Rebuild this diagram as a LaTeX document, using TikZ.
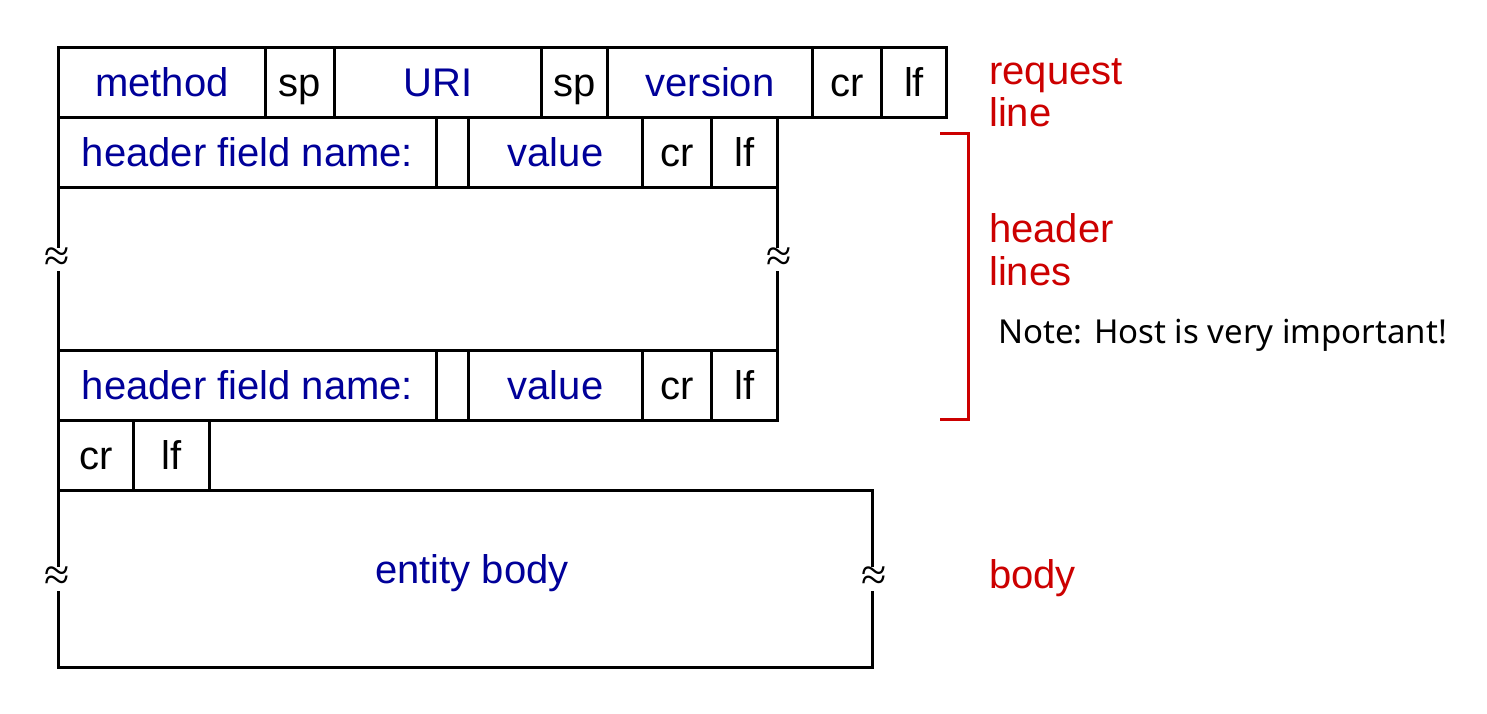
\documentclass[tikz,border=0pt]{standalone}
\usepackage{fontspec}
\setmainfont{Liberation Sans}
\newfontfamily\notefont{Noto Sans}
\newfontfamily\squigfont{Liberation Serif}
\definecolor{hblue}{RGB}{0,0,153}
\definecolor{hred}{RGB}{204,0,0}
\begin{document}
\begin{tikzpicture}[x=1pt,y=-1pt,
  cell/.style={draw=black, line width=3pt, inner sep=0pt, anchor=north west,
    minimum height=70pt, text height=29pt, text depth=1pt,
    font=\fontsize{40}{44}\selectfont},
  bl/.style={text=hblue},
  squig/.style={fill=white, inner sep=0pt, font=\squigfont\fontsize{46}{50}\selectfont},
  lab/.style={text=hred, anchor=base west, inner sep=0pt, font=\fontsize{40}{44}\selectfont}]
\useasboundingbox (0,0) rectangle (1487,713);
% request line
\node[cell,bl,minimum width=207pt] (method) at (57,46) {method};
\node[cell,minimum width=69pt] (sp1) at (264,46) {sp};
\node[cell,bl,minimum width=207pt] (uri) at (333,46) {URI};
\node[cell,minimum width=66pt] (sp2) at (540,46) {sp};
\node[cell,bl,minimum width=205pt] (version) at (606,46) {version};
\node[cell,minimum width=69pt] (cr1) at (811,46) {cr};
\node[cell,minimum width=65pt] (lf1) at (880,46) {lf};
% header line 1
\node[cell,bl,minimum width=378pt] (name1) at (57,116) {header field name:};
\node[cell,minimum width=32pt] (blank1) at (435,116) {};
\node[cell,bl,minimum width=174pt] (value1) at (467,116) {value};
\node[cell,minimum width=69pt] (cr2) at (641,116) {cr};
\node[cell,minimum width=66pt] (lf2) at (710,116) {lf};
% gap
\node[cell,minimum width=719pt,minimum height=163pt] (gap) at (57,186) {};
\node[squig] (sq1) at ([yshift=9.5pt]gap.west) {≈};
\node[squig] (sq2) at ([yshift=9.5pt]gap.east) {≈};
% header line 2
\node[cell,bl,minimum width=378pt] (name2) at (57,349) {header field name:};
\node[cell,minimum width=32pt] (blank2) at (435,349) {};
\node[cell,bl,minimum width=174pt] (value2) at (467,349) {value};
\node[cell,minimum width=69pt] (cr3) at (641,349) {cr};
\node[cell,minimum width=66pt] (lf3) at (710,349) {lf};
% blank line
\node[cell,minimum width=75pt] (cr4) at (57,419) {cr};
\node[cell,minimum width=76pt] (lf4) at (132,419) {lf};
% body
\node[cell,minimum width=814pt,minimum height=177pt] (body) at (57,489) {};
\node[squig] (sq3) at (body.west) {≈};
\node[squig] (sq4) at (body.east) {≈};
\node[text=hblue,inner sep=0pt,font=\fontsize{40}{44}\selectfont] (bodytext) at (472,573) {entity body};
% labels
\node[lab] (req) at (989,84) {request};
\node[lab] (reqline) at (989,126) {line};
\node[lab] (hdr) at (989,242) {header};
\node[lab] (hdrlines) at (989,285) {lines};
\node[lab] (bodylab) at (989,588) {body};
\coordinate (bt) at (940,133);
\coordinate (bb) at (940,419);
\draw[hred,line width=3pt] (bt) -- (968,133) -- (968,419) -- (bb);
\node[anchor=base west,inner sep=0pt,font=\notefont\fontsize{33}{38}\selectfont] (note) at (998,343) {Note: Host is very important!};
\end{tikzpicture}
\end{document}
